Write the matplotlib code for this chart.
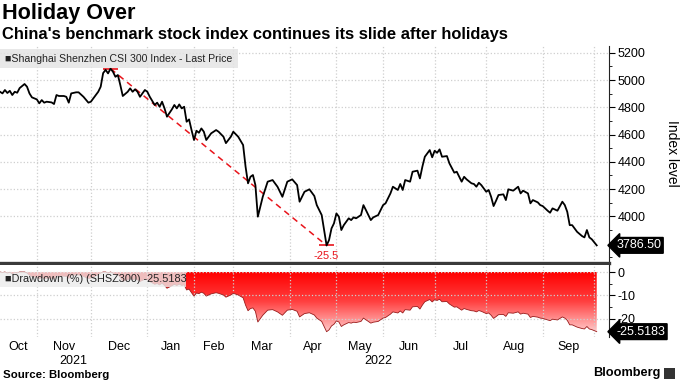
import matplotlib
matplotlib.use("Agg")
import matplotlib.pyplot as plt
import numpy as np
import pandas as pd
from matplotlib.colors import LinearSegmentedColormap
from matplotlib.patches import Rectangle
from matplotlib.transforms import blended_transform_factory

plt.rcParams["font.family"] = ["Liberation Sans", "DejaVu Sans"]
plt.rcParams["axes.unicode_minus"] = False

# trading sessions (index from 2021-10-11) and CSI 300 closes
session = [
    0, 1, 2, 3, 4, 5, 6, 7, 8, 10, 11, 12, 13, 15, 16, 17, 18, 19, 21, 22,
    23, 24, 26, 27, 28, 29, 31, 32, 34, 36, 37, 39, 40, 41, 42, 43, 44, 45, 46, 47,
    48, 49, 50, 52, 53, 54, 55, 56, 57, 59, 60, 61, 63, 64, 65, 66, 67, 68, 70, 71,
    72, 73, 74, 75, 76, 77, 78, 79, 80, 81, 82, 83, 84, 86, 88, 89, 91, 92, 94, 95,
    97, 99, 100, 101, 102, 103, 104, 105, 107, 109, 111, 113, 115, 117, 119, 121, 122, 124, 126, 128,
    129, 131, 132, 133, 134, 135, 136, 137, 138, 139, 140, 142, 143, 144, 145, 147, 148, 149, 151, 152,
    154, 156, 157, 159, 160, 162, 163, 164, 165, 167, 168, 170, 171, 172, 173, 175, 176, 177, 178, 179,
    180, 182, 183, 185, 186, 188, 189, 190, 192, 193, 194, 195, 196, 198, 199, 200, 201, 202, 203, 205,
    206, 207, 209, 211, 212, 213, 215, 216, 217, 219, 220, 221, 223, 224, 225, 227, 229, 230, 231, 232,
    233, 235, 237, 238, 239, 240, 241, 243,
]
close = [
    4914, 4902, 4927, 4905, 4921, 4890, 4914, 4907, 4941, 4971, 4951, 4902, 4873, 4858, 4829, 4853, 4834, 4841, 4836, 4824,
    4890, 4883, 4883, 4877, 4834, 4902, 4910, 4910, 4877, 4834, 4841, 4890, 4914, 4951, 5051, 5075, 5049, 5083.8, 5061, 5024,
    5037, 4963, 4883, 4914, 4939, 4914, 4932, 4914, 4877, 4927, 4914, 4877, 4817, 4834, 4804, 4841, 4792, 4731, 4785, 4817,
    4792, 4821, 4792, 4804, 4694, 4711, 4633, 4560, 4628, 4613, 4645, 4621, 4560, 4609, 4633, 4621, 4584, 4537, 4584, 4621,
    4584, 4523, 4364, 4242, 4290, 4303, 4229, 3997, 4143, 4254, 4266, 4217, 4143, 4254, 4271, 4229, 4107, 4180, 4198, 4149,
    4082, 4009, 3899, 3785.5, 3826, 3911, 3948, 4021, 3997, 3899, 3935, 3985, 3972, 3992, 3985, 4009, 4082, 4046, 3972, 3992,
    4009, 4082, 4095, 4168, 4217, 4193, 4237, 4193, 4266, 4254, 4327, 4335, 4278, 4364, 4437, 4486, 4433, 4481, 4466, 4491,
    4437, 4442, 4389, 4320, 4327, 4254, 4290, 4271, 4242, 4237, 4217, 4246, 4229, 4180, 4193, 4143, 4075, 4114, 4156, 4161,
    4119, 4198, 4188, 4217, 4168, 4188, 4168, 4095, 4119, 4102, 4082, 4075, 4041, 4026, 4058, 4041, 4107, 4082, 4033, 3935,
    3935, 3886, 3855, 3845, 3899, 3845, 3831, 3786.5,
]
holidays = [
    "2022-01-03", "2022-01-31", "2022-02-01", "2022-02-02", "2022-02-03", "2022-02-04",
    "2022-04-04", "2022-04-05", "2022-05-02", "2022-05-03", "2022-05-04", "2022-06-03",
    "2022-09-12", "2022-10-03", "2022-10-04", "2022-10-05", "2022-10-06", "2022-10-07",
]
month_labels = ["Oct", "Nov", "Dec", "Jan", "Feb", "Mar", "Apr", "May", "Jun", "Jul", "Aug", "Sep"]

session = np.array(session)
close = np.array(close, dtype=float)
dd = close / np.maximum.accumulate(close) * 100 - 100

days = pd.bdate_range("2021-10-11", "2022-10-11")
days = days[~days.isin(pd.to_datetime(holidays))]
ym = days.year * 12 + days.month
month_start = [0] + list(np.flatnonzero(np.diff(ym)) + 1)
x_max = 248
mids = [(a + b) / 2 for a, b in zip(month_start[:-1], month_start[1:])]
year_split = month_start[3]

fig = plt.figure(figsize=(6.8, 3.83), dpi=100)
ax = fig.add_axes([0, 1 - 263 / 383, 609 / 680, 217 / 383])
ax2 = fig.add_axes([0, 1 - 337 / 383, 609 / 680, 72 / 383], sharex=ax)

grid_kw = dict(color="#cfcfcf", linestyle=":", linewidth=0.9)
red = "#e8141b"

# top panel
ax.plot(session, close, color="black", linewidth=1.3, zorder=3)
ipk = int(np.argmax(close))
itr = int(np.argmin(dd))
ax.plot([session[ipk], session[itr]], [close[ipk], close[itr]], color=red,
        linestyle=(0, (4, 3)), linewidth=1.1, zorder=2)
ax.hlines([close[ipk], close[itr]], [session[ipk] - 3, session[itr] - 3],
          [session[ipk] + 3, session[itr] + 3], color=red, linewidth=1.2, zorder=2)
ax.text(session[itr], close[itr] - 40, f"{dd[itr]:.1f}", color=red,
        ha="center", va="top", fontsize=8)

ax.set_xlim(0, x_max)
ax.set_ylim(3657, 5250)
ax.set_yticks(range(4000, 5201, 200))
ax.set_yticks(range(3700, 5251, 100), minor=True)
ax.grid(True, which="major", **grid_kw)
ax.yaxis.tick_right()
ax.tick_params(axis="y", which="major", direction="out", length=4, labelsize=9, pad=2)
ax.tick_params(axis="y", which="minor", direction="out", length=2)
for s in ["top", "left"]:
    ax.spines[s].set_visible(False)
ax.spines["bottom"].set_linewidth(2.4)
ax.spines["bottom"].set_color("#3a3a3a")
ax.spines["right"].set_color("#222222")

ax.add_patch(Rectangle((0, 0.899), 238 / 609, 0.087, transform=ax.transAxes,
                       facecolor="#e4e4e4", alpha=0.85, edgecolor="none", zorder=4))
ax.text(0.008, 0.942, "■Shanghai Shenzhen CSI 300 Index - Last Price", transform=ax.transAxes,
        va="center", ha="left", fontsize=7.6, color="#222222", zorder=5)

tr = blended_transform_factory(ax.transAxes, ax.transData)
ax.text(1.012, close[-1], f"{close[-1]:.2f}", transform=tr, va="center", ha="left",
        color="white", fontsize=9,
        bbox=dict(boxstyle="larrow,pad=0.15", facecolor="black", edgecolor="black"))

# bottom panel: drawdown with red gradient
cmap = LinearSegmentedColormap.from_list(
    "dd", [(0, "#ff0000"), (0.45, "#ff4040"), (1, "#ffe4e4")])
poly = ax2.fill_between(session, dd, 0, color="none")
grad = np.linspace(0, 1, 256).reshape(-1, 1)
img = ax2.imshow(grad, extent=[0, x_max, -28, 0], aspect="auto", cmap=cmap,
                 origin="upper", zorder=1)
img.set_clip_path(poly.get_paths()[0], transform=ax2.transData)
ax2.plot(session, dd, color="#9a1a1a", linewidth=0.6, zorder=2)

ax2.set_xlim(0, x_max)
ax2.set_ylim(-27.8, 3.0)
ax2.set_yticks([0, -10, -20])
ax2.set_yticks([-5, -15, -25], minor=True)
ax2.set_xticks(month_start[1:])
ax2.set_xticks(mids[:12], minor=True)
ax2.set_xticklabels([], minor=False)
ax2.set_xticklabels(month_labels, minor=True)
ax2.grid(True, which="major", **grid_kw)
ax2.yaxis.tick_right()
ax2.tick_params(axis="y", which="major", direction="out", length=4, labelsize=9, pad=2)
ax2.tick_params(axis="y", which="minor", direction="out", length=2)
ax2.tick_params(axis="x", which="both", length=0, labelsize=9, pad=3)
for s in ["top", "left", "bottom"]:
    ax2.spines[s].set_visible(False)
ax2.spines["right"].set_color("#222222")
# shared x axis: keep the month labels off the top panel
ax.tick_params(axis="x", which="both", length=0, labelbottom=False)

ax2.add_patch(Rectangle((0, 0.694), 186 / 609, 0.209, transform=ax2.transAxes,
                        facecolor="#ececec", alpha=0.8, edgecolor="none", zorder=4))
ax2.text(0.008, 0.799, f"■Drawdown (%) (SHSZ300) {dd[-1]:.4f}", transform=ax2.transAxes,
         va="center", ha="left", fontsize=7.8, color="#222222", zorder=5)

tr2 = blended_transform_factory(ax2.transAxes, ax2.transData)
ax2.text(1.012, dd[-1], f"{dd[-1]:.4f}", transform=tr2, va="center", ha="left",
         color="white", fontsize=9,
         bbox=dict(boxstyle="larrow,pad=0.15", facecolor="black", edgecolor="black"))

trx = blended_transform_factory(ax2.transData, fig.transFigure)
ax2.text(year_split / 2, 1 - 361 / 383, "2021", transform=trx, ha="center", va="center", fontsize=9)
ax2.text((year_split + x_max) / 2, 1 - 361 / 383, "2022", transform=trx, ha="center",
         va="center", fontsize=9)

# titles and footer
fig.text(0.003, 1 - 14 / 383, "Holiday Over", fontsize=15.6, fontweight="bold", va="center")
fig.text(0.003, 1 - 34 / 383, "China's benchmark stock index continues its slide after holidays",
         fontsize=11.9, fontweight="bold", va="center")
fig.text(672 / 680, 1 - 153 / 383, "Index level", rotation=270, ha="center", va="center",
         fontsize=10)
fig.text(0.004, 1 - 375 / 383, "Source: Bloomberg", fontsize=8.2, fontweight="bold", va="center")
fig.text(660 / 680, 1 - 373 / 383, "Bloomberg", fontsize=9.2, fontweight="bold",
         ha="right", va="center")
fig.patches.append(Rectangle((664 / 680, 1 - 379 / 383), 11 / 680, 11 / 383,
                             transform=fig.transFigure, facecolor="#333333",
                             edgecolor="none"))

fig.savefig("out.png", dpi=100)
